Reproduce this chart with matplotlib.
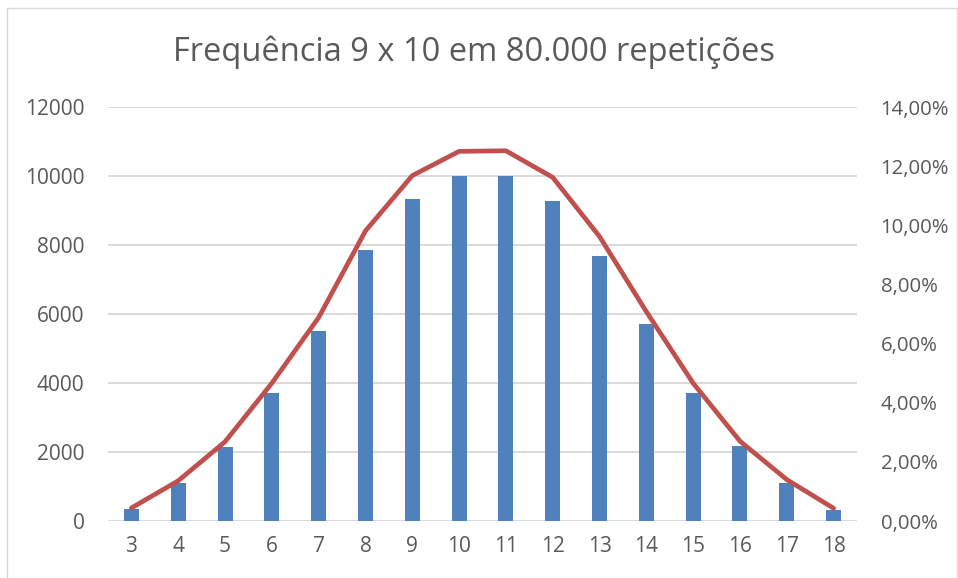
import matplotlib.pyplot as plt
from matplotlib.patches import Rectangle
from matplotlib.ticker import FuncFormatter

somas = [3, 4, 5, 6, 7, 8, 9, 10, 11, 12, 13, 14, 15, 16, 17, 18]
frequencia = [340, 1100, 2150, 3710, 5500, 7850, 9330, 10000,
              10000, 9270, 7680, 5710, 3710, 2170, 1110, 330]
percentual = [0.44, 1.36, 2.68, 4.66, 6.88, 9.81, 11.68, 12.50,
              12.52, 11.62, 9.62, 7.08, 4.66, 2.70, 1.40, 0.43]

plt.rcParams['font.family'] = ['Open Sans', 'DejaVu Sans']
cinza = '#595959'

fig = plt.figure(figsize=(9.58, 5.78), dpi=100)
fig.patches.append(Rectangle((7 / 958, -0.01), 0.999 - 7 / 958, 1 - 8 / 578 + 0.01,
                             transform=fig.transFigure, fill=False,
                             edgecolor='#d9d9d9', linewidth=1))

ax = fig.add_axes([108 / 958, 1 - 521 / 578, (857 - 108) / 958, (521 - 107) / 578])
x = list(range(len(somas)))
ax.bar(x, frequencia, width=0.32, color='#4f81bd', zorder=2)
ax.set_xlim(-0.5, len(somas) - 0.5)
ax.set_ylim(0, 12000)
ax.set_yticks(range(0, 12001, 2000))
ax.set_xticks(x)
ax.set_xticklabels([str(s) for s in somas])
ax.grid(axis='y', color='#d9d9d9', linewidth=1.4, zorder=0)
ax.set_axisbelow(True)
for s in ax.spines.values():
    s.set_visible(False)
ax.tick_params(length=0, labelsize=15, colors=cinza, pad=17)
ax.tick_params(axis='x', pad=11)

ax2 = ax.twinx()
ax2.plot(x, percentual, color='#c0504d', linewidth=3.4, solid_capstyle='round',
         solid_joinstyle='round', zorder=3)
ax2.set_ylim(0, 14)
ax2.set_yticks(range(0, 15, 2))
ax2.yaxis.set_major_formatter(FuncFormatter(lambda v, p: f"{v:.2f}%".replace('.', ',')))
for s in ax2.spines.values():
    s.set_visible(False)
ax2.tick_params(length=0, labelsize=14.7, colors=cinza, pad=17)

fig.text(474 / 958, 1 - 52 / 578, 'Frequência 9 x 10 em 80.000 repetições',
         ha='center', va='center', fontsize=23.5, color=cinza)

fig.savefig('out.png', dpi=100)
